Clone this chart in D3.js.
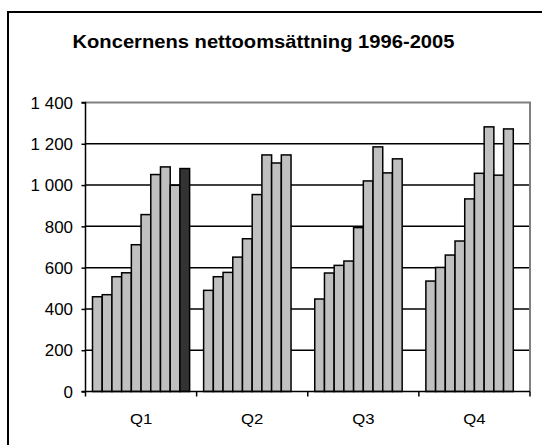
<!DOCTYPE html>
<html>
<head>
<meta charset="utf-8">
<script src="https://cdn.jsdelivr.net/npm/d3@7"></script>
<style>
  html, body { margin: 0; padding: 0; background: #fff; }
  svg { display: block; font-family: "Liberation Sans", Arial, sans-serif; }
</style>
</head>
<body>
<svg id="chart" width="542" height="445"></svg>
<script>
// ---- data ----
const title = "Koncernens nettoomsättning 1996-2005";
const quarters = ["Q1", "Q2", "Q3", "Q4"];
const years = ["1996", "1997", "1998", "1999", "2000", "2001", "2002", "2003", "2004", "2005"];
const valuesQ1 = [459, 469, 556, 575, 711, 857, 1051, 1088, 999, 1080];
const valuesQ2 = [490, 556, 577, 651, 740, 954, 1146, 1107, 1146];
const valuesQ3 = [448, 574, 611, 632, 794, 1020, 1185, 1059, 1127];
const valuesQ4 = [535, 601, 661, 729, 933, 1057, 1282, 1048, 1272];
const yTickValues = [0, 200, 400, 600, 800, 1000, 1200, 1400];
const highlightYear = "2005";

const quarterValues = [valuesQ1, valuesQ2, valuesQ3, valuesQ4];
const rows = [];
quarters.forEach((q, qi) => {
  quarterValues[qi].forEach((v, yi) => rows.push({ quarter: q, year: years[yi], value: v }));
});

// ---- layout ----
const svg = d3.select("#chart");
const plot = { left: 85.5, right: 530, top: 102.5, bottom: 391.5 };

// outer frame (right/bottom edges run off the picture)
svg.append("rect")
  .attr("x", 8).attr("y", 12).attr("width", 560).attr("height", 460)
  .attr("fill", "none").attr("stroke", "#000").attr("stroke-width", 2);

// title
svg.append("text")
  .attr("transform", "translate(263.5,48) scale(1.12,1)")
  .attr("text-anchor", "middle")
  .attr("font-weight", "bold")
  .attr("font-size", 18)
  .attr("fill", "#000")
  .text(title);

const x0 = d3.scaleBand().domain(quarters).range([plot.left, plot.right]).padding(0);
const cw = x0.bandwidth();
const gap = cw * 0.063;
const x1 = d3.scaleBand().domain(years).range([gap, cw - gap]).padding(0);
const y = d3.scaleLinear().domain([0, 1400]).range([plot.bottom, plot.top]);

const locale = d3.formatLocale({ decimal: ",", thousands: "\u00a0", grouping: [3], currency: ["", " kr"] });
const fmt = locale.format(",d");

// gridlines
svg.append("g")
  .selectAll("line")
  .data(yTickValues.filter(v => v > 0 && v < 1400))
  .join("line")
  .attr("x1", plot.left).attr("x2", plot.right)
  .attr("y1", d => y(d)).attr("y2", d => y(d))
  .attr("stroke", "#000").attr("stroke-width", 1.5);

// plot border (top & right, gray)
svg.append("path")
  .attr("d", `M${plot.left},${y(1400)}H${plot.right}V${plot.bottom}`)
  .attr("fill", "none").attr("stroke", "#808080").attr("stroke-width", 2);

// bars
svg.append("g")
  .selectAll("rect")
  .data(rows)
  .join("rect")
  .attr("x", d => x0(d.quarter) + x1(d.year))
  .attr("y", d => y(d.value))
  .attr("width", x1.bandwidth())
  .attr("height", d => y(0) - y(d.value))
  .attr("fill", d => d.year === highlightYear ? "#333333" : "#C0C0C0")
  .attr("stroke", "#000").attr("stroke-width", 1.5);

// y axis
const sx = 1.06;
const yAxis = d3.axisLeft(y).tickValues(yTickValues).tickSize(4).tickPadding(8).tickFormat(fmt);
const gy = svg.append("g").attr("transform", `translate(${plot.left},0)`).call(yAxis);
gy.select(".domain").attr("stroke", "#000").attr("stroke-width", 1.5).attr("d", `M-4,${plot.top}H0V${plot.bottom}H-4`);
gy.selectAll(".tick line").attr("stroke", "#000").attr("stroke-width", 1.5);
gy.selectAll(".tick text")
  .attr("font-size", 16).attr("font-family", "'Liberation Sans', Arial, sans-serif")
  .attr("fill", "#000")
  .attr("dy", "0.36em")
  .attr("transform", `scale(${sx},1)`)
  .attr("x", -12.5 / sx);

// x axis
const xBoundaries = x0.domain().map(q => x0(q)).concat([plot.right]);
svg.append("line")
  .attr("x1", plot.left).attr("x2", plot.right)
  .attr("y1", plot.bottom).attr("y2", plot.bottom)
  .attr("stroke", "#000").attr("stroke-width", 1.5);
svg.append("g").selectAll("line")
  .data(xBoundaries)
  .join("line")
  .attr("x1", d => d).attr("x2", d => d)
  .attr("y1", plot.bottom).attr("y2", plot.bottom + 5)
  .attr("stroke", "#000").attr("stroke-width", 1.5);
svg.append("g").selectAll("text")
  .data(quarters)
  .join("text")
  .attr("transform", d => `translate(${x0(d) + cw / 2},424) scale(1.08,1)`)
  .attr("text-anchor", "middle")
  .attr("font-size", 15.5)
  .attr("fill", "#000")
  .text(d => d);
</script>
</body>
</html>
